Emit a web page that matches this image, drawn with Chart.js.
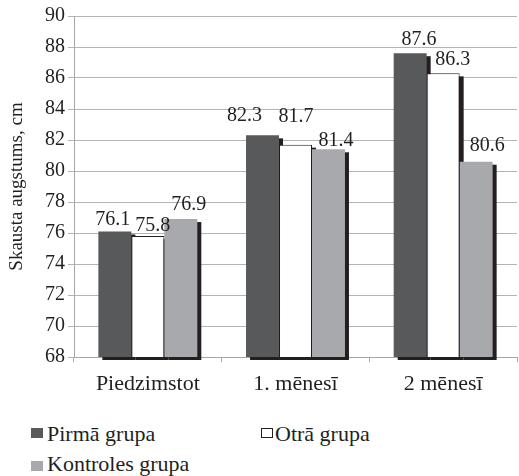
<!DOCTYPE html>
<html>
<head>
<meta charset="utf-8">
<script src="https://cdn.jsdelivr.net/npm/chart.js@4/dist/chart.umd.min.js"></script>
<style>
  html, body { margin: 0; padding: 0; background: #fff; }
  #wrap { position: relative; width: 519px; height: 476px; font-family: "Liberation Serif", "Times New Roman", Times, Tinos, "Noto Serif", FreeSerif, Georgia, serif; color: #231f20; }
  #box { position: absolute; left: 0; top: 0; width: 519px; height: 402px; }
  .lg { position: absolute; font-size: 22px; line-height: 22px; white-space: nowrap; }
  .sw { position: absolute; width: 12px; height: 10px; box-sizing: border-box; }
</style>
</head>
<body>
<div id="wrap">
  <div id="box"><canvas id="c"></canvas></div>
  <div id="legend"></div>
</div>
<script>
// Categories and series values
const categories = ['Piedzimstot', '1. mēnesī', '2 mēnesī'];
const seriesNames = ['Pirmā grupa', 'Otrā grupa', 'Kontroles grupa'];
const pirmaGrupa = [76.1, 82.3, 87.6];
const otraGrupa = [75.8, 81.7, 86.3];
const kontrolesGrupa = [76.9, 81.4, 80.6];
const yMin = 68;
const yMax = 90;
const yStep = 2;

const FONT = '"Liberation Serif", "Times New Roman", Times, Tinos, "Noto Serif", FreeSerif, Georgia, serif';
const INK = '#231f20';
const fills = ['#58595b', '#ffffff', '#a7a9ac'];

// Per-label offsets of the value text (dx, dy from the bar's top centre)
const labelNudge = [
  [[-2, -6.5], [-18, -14], [8.7, -8]],
  [[5, -5], [0.5, -23], [9.5, -8.5]],
  [[8, -9], [7.5, -3.3], [11, -11]]
];

// Dark drop shadow behind each bar
const barShadow = {
  id: 'barShadow',
  beforeDatasetsDraw(chart) {
    const ctx = chart.ctx;
    const bottom = chart.chartArea.bottom;
    ctx.save();
    ctx.fillStyle = INK;
    chart.data.datasets.forEach((ds, i) => {
      chart.getDatasetMeta(i).data.forEach(bar => {
        const p = bar.getProps(['x', 'y', 'width'], true);
        ctx.fillRect(p.x - p.width / 2 + 4, p.y + 3, p.width, bottom - p.y);
      });
    });
    ctx.restore();
  }
};

// Value text above each bar
const valueLabels = {
  id: 'valueLabels',
  afterDatasetsDraw(chart) {
    const ctx = chart.ctx;
    ctx.save();
    ctx.font = '20px ' + FONT;
    ctx.fillStyle = INK;
    ctx.textAlign = 'center';
    ctx.textBaseline = 'alphabetic';
    chart.data.datasets.forEach((ds, i) => {
      chart.getDatasetMeta(i).data.forEach((bar, j) => {
        const p = bar.getProps(['x', 'y'], true);
        const n = labelNudge[i][j];
        ctx.fillText(ds.data[j].toFixed(1), p.x + n[0], p.y + n[1]);
      });
    });
    ctx.restore();
  }
};

const seriesValues = [pirmaGrupa, otraGrupa, kontrolesGrupa];

new Chart(document.getElementById('c'), {
  type: 'bar',
  data: {
    labels: categories,
    datasets: seriesValues.map((vals, i) => ({
      label: seriesNames[i],
      data: vals,
      backgroundColor: fills[i],
      borderColor: INK,
      borderWidth: i === 1 ? 1 : 0,
      categoryPercentage: 0.67,
      barPercentage: 1.0
    }))
  },
  options: {
    responsive: true,
    maintainAspectRatio: false,
    animation: false,
    layout: { padding: { top: 16, right: 2, left: 0, bottom: 0 } },
    plugins: { legend: { display: false }, tooltip: { enabled: false } },
    scales: {
      x: {
        grid: { drawOnChartArea: false, tickLength: 5, color: '#a6a6a6', offset: true },
        border: { color: '#a6a6a6' },
        ticks: { color: INK, font: { family: FONT, size: 22 }, padding: 9 },
        afterFit(s) { s.height = 45; }
      },
      y: {
        min: yMin,
        max: yMax,
        ticks: { stepSize: yStep, color: INK, font: { family: FONT, size: 20 }, padding: 3 },
        grid: { color: '#b3b3b3', tickLength: 6 },
        border: { color: '#a6a6a6' },
        title: {
          display: true,
          text: 'Skausta augstums, cm',
          color: INK,
          font: { family: FONT, size: 19 },
          padding: { top: 6, bottom: 0 }
        },
        afterFit(s) { s.width = 74; }
      }
    }
  },
  plugins: [barShadow, valueLabels]
});

// Legend below the chart
const legendSpots = [
  { bx: 31, by: 428, tx: 47, ty: 423 },
  { bx: 261, by: 428, tx: 275, ty: 423 },
  { bx: 31, by: 461, tx: 47, ty: 453 }
];
const legend = document.getElementById('legend');
seriesNames.forEach((name, i) => {
  const s = legendSpots[i];
  const sw = document.createElement('div');
  sw.className = 'sw';
  sw.style.left = s.bx + 'px';
  sw.style.top = s.by + 'px';
  sw.style.background = fills[i];
  if (i === 1) sw.style.border = '1px solid ' + INK;
  legend.appendChild(sw);
  const t = document.createElement('div');
  t.className = 'lg';
  t.style.left = s.tx + 'px';
  t.style.top = s.ty + 'px';
  t.textContent = name;
  legend.appendChild(t);
});
</script>
</body>
</html>
